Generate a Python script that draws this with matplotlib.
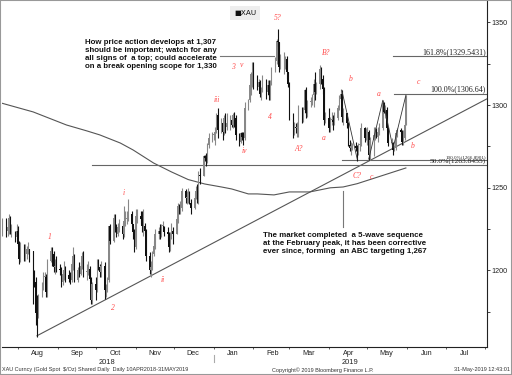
import matplotlib
matplotlib.use("Agg")
import matplotlib.pyplot as plt
import matplotlib.dates as mdates
import matplotlib.ticker as mticker
import matplotlib.transforms as mtransforms
from matplotlib.patches import Rectangle
import numpy as np
import pandas as pd

# XAU daily bars (weekdays) 20 Jul 2018 - 31 May 2019
closes = [
    1231, 1224, 1226, 1232, 1223, 1223, 1220, 1224,  # Jul
    1216, 1207, 1214, 1208, 1210, 1213, 1213, 1212, 1194, 1193, 1174, 1173,
    1184, 1190, 1196, 1196, 1187, 1206, 1212, 1210, 1202, 1202, 1201,  # Aug
    1200, 1193, 1198, 1200, 1197, 1195, 1194, 1204, 1209, 1194,
    1200, 1198, 1203, 1209, 1199, 1199, 1201, 1195, 1182, 1192,  # Sep
    1188, 1204, 1202, 1199, 1203, 1188, 1190, 1194, 1227, 1218, 1232, 1225,
    1222, 1226, 1227, 1222, 1230, 1231, 1232, 1234, 1228, 1223, 1214,  # Oct
    1233, 1233, 1231, 1227, 1227, 1224, 1209, 1200, 1202, 1210, 1215,
    1222, 1224, 1222, 1227, 1227, 1223, 1222, 1214, 1220, 1224, 1222,  # Nov
    1231, 1239, 1237, 1238, 1248, 1244, 1244, 1246, 1241, 1238, 1244,
    1248, 1243, 1258, 1257, 1269, 1268, 1267, 1276, 1280, 1282,  # Dec
    1282, 1284, 1294, 1285, 1289, 1284, 1292, 1287, 1289, 1291, 1288, 1294,
    1292, 1282, 1278, 1283, 1281, 1280, 1298, 1303, 1312, 1319, 1321,  # Jan
    1317, 1311, 1314, 1307, 1309, 1314, 1308, 1312, 1306, 1313,
    1322, 1327, 1339, 1338, 1323, 1328, 1328, 1328, 1320, 1313,  # Feb
    1294, 1287, 1287, 1286, 1286, 1298, 1291, 1297, 1309, 1295, 1302,
    1302, 1306, 1313, 1308, 1313, 1322, 1316, 1310, 1291, 1292,  # Mar
    1286, 1291, 1291, 1290, 1292, 1298, 1304, 1307, 1293, 1295, 1289,
    1276, 1274, 1275, 1275, 1274, 1270, 1276, 1276, 1286, 1280, 1284,  # Apr
    1284, 1270, 1279, 1282, 1284, 1281, 1284, 1286, 1301, 1296, 1297, 1286,
    1277, 1277, 1273, 1274, 1283, 1285, 1284, 1278, 1280, 1288, 1305,  # May
]
highs = [
    1232, 1232, 1230, 1234, 1233, 1228, 1224, 1228,
    1227, 1218, 1217, 1216, 1216, 1215, 1217, 1213, 1212, 1200, 1196, 1185,
    1186, 1193, 1199, 1199, 1198, 1207, 1214, 1214, 1212, 1207, 1209,
    1204, 1202, 1200, 1206, 1203, 1200, 1199, 1205, 1214, 1210,
    1202, 1205, 1205, 1211, 1212, 1204, 1206, 1203, 1196, 1193,
    1196, 1207, 1207, 1204, 1206, 1205, 1192, 1196, 1227, 1228, 1234, 1234,
    1228, 1229, 1231, 1229, 1239, 1236, 1236, 1243, 1236, 1227, 1225,
    1237, 1237, 1236, 1236, 1237, 1229, 1225, 1211, 1206, 1212, 1218,
    1225, 1226, 1228, 1228, 1230, 1227, 1226, 1223, 1223, 1229, 1226,
    1233, 1241, 1240, 1242, 1250, 1249, 1248, 1250, 1248, 1243, 1247,
    1251, 1252, 1260, 1262, 1270, 1270, 1271, 1277, 1283, 1284,
    1283, 1287, 1295, 1298, 1292, 1290, 1294, 1295, 1295, 1294, 1294, 1295,
    1296, 1294, 1283, 1284, 1284, 1284, 1302, 1304, 1313, 1320, 1326,
    1326, 1318, 1316, 1315, 1311, 1318, 1316, 1315, 1315, 1315,
    1323, 1329, 1340, 1346, 1338, 1331, 1332, 1330, 1330, 1320,
    1314, 1295, 1290, 1289, 1290, 1300, 1299, 1299, 1310, 1311, 1303,
    1305, 1307, 1316, 1320, 1314, 1324, 1323, 1318, 1311, 1296,
    1298, 1293, 1296, 1294, 1296, 1300, 1306, 1310, 1309, 1298, 1295,
    1290, 1279, 1278, 1277, 1278, 1276, 1277, 1281, 1289, 1287, 1286,
    1287, 1285, 1281, 1287, 1287, 1286, 1287, 1289, 1303, 1302, 1300, 1299,
    1287, 1280, 1278, 1276, 1284, 1286, 1286, 1285, 1285, 1289, 1306,
]
lows = [
    1221, 1220, 1221, 1222, 1222, 1220, 1217, 1218,
    1215, 1204, 1205, 1206, 1206, 1207, 1210, 1205, 1180, 1190, 1167, 1160,
    1171, 1184, 1188, 1192, 1184, 1184, 1205, 1203, 1199, 1198, 1199,
    1197, 1190, 1191, 1194, 1193, 1193, 1192, 1193, 1200, 1193,
    1193, 1196, 1197, 1201, 1196, 1194, 1197, 1194, 1180, 1180,
    1182, 1187, 1200, 1196, 1196, 1183, 1184, 1187, 1193, 1216, 1217, 1223,
    1220, 1221, 1223, 1219, 1220, 1227, 1228, 1230, 1226, 1219, 1211,
    1213, 1229, 1228, 1223, 1221, 1222, 1206, 1198, 1196, 1200, 1209,
    1213, 1219, 1219, 1220, 1224, 1221, 1218, 1211, 1212, 1219, 1216,
    1222, 1229, 1234, 1234, 1236, 1241, 1240, 1241, 1240, 1234, 1237,
    1243, 1241, 1240, 1252, 1257, 1266, 1263, 1265, 1274, 1278,
    1279, 1276, 1283, 1280, 1283, 1279, 1282, 1283, 1285, 1285, 1287, 1286,
    1287, 1279, 1275, 1277, 1279, 1276, 1279, 1297, 1302, 1306, 1311,
    1310, 1309, 1309, 1305, 1303, 1308, 1304, 1306, 1303, 1303,
    1312, 1320, 1325, 1336, 1320, 1322, 1319, 1322, 1316, 1311,
    1291, 1280, 1282, 1283, 1281, 1281, 1289, 1290, 1295, 1292, 1293,
    1299, 1300, 1299, 1303, 1307, 1310, 1313, 1307, 1288, 1289,
    1284, 1284, 1288, 1285, 1288, 1291, 1297, 1302, 1290, 1288, 1286,
    1275, 1272, 1270, 1273, 1272, 1266, 1270, 1272, 1275, 1278, 1279,
    1276, 1267, 1267, 1269, 1279, 1280, 1278, 1282, 1285, 1295, 1292, 1285,
    1275, 1274, 1270, 1272, 1273, 1281, 1283, 1276, 1276, 1279, 1288,
]
first_open = 1224

# moving average line (read at points along the curve)
ma_dates = ["2018-07-19", "2018-08-13", "2018-09-08", "2018-09-24", "2018-10-04",
            "2018-10-20", "2018-10-30", "2018-11-15", "2018-11-29", "2018-12-12",
            "2018-12-25", "2019-01-07", "2019-01-15", "2019-01-28", "2019-02-04",
            "2019-02-17", "2019-03-01", "2019-03-17", "2019-04-02", "2019-04-12",
            "2019-04-23", "2019-05-09", "2019-05-27", "2019-05-31"]
ma_values = [1301.3, 1295.9, 1288.0, 1284.4, 1282.0, 1277.1, 1272.9, 1265.0,
             1259.6, 1255.0, 1252.3, 1250.5, 1249.3, 1246.3, 1246.3, 1245.7,
             1247.5, 1247.5, 1250.0, 1250.5, 1252.5, 1256.5, 1261.0, 1262.0]

trend_dates = ["2018-08-16", "2019-08-02"]
trend_values = [1160.5, 1303.7]

wave_line_dates = ["2019-05-02", "2019-05-13", "2019-05-21", "2019-05-31"]
wave_line_values = [1267.4, 1303.0, 1274.0, 1306.0]
bc_dates = ["2019-04-11", "2019-04-23"]
bc_values = [1309.0, 1267.4]

wave_labels = ["1", "2", "i", "ii", "iii", "iv", "3", "v", "5?", "4",
               "A?", "B?", "a", "b", "C?", "c", "a", "c", "b"]
wave_dates = ["2018-08-26", "2018-10-14", "2018-10-23", "2018-11-22", "2019-01-03",
              "2019-01-25", "2019-01-16", "2019-01-23", "2019-02-20", "2019-02-14",
              "2019-03-08", "2019-03-30", "2019-03-28", "2019-04-18", "2019-04-23",
              "2019-05-04", "2019-05-10", "2019-06-10", "2019-06-05"]
wave_prices = [1220, 1177, 1247, 1194, 1303, 1272, 1323, 1324, 1353, 1293,
               1273.5, 1331.6, 1280, 1316, 1257, 1256.6, 1307, 1314, 1275]

# fib / level lines: (label, level, start date)
fib_labels = ["161.8%(1329.5431)", "100.0%(1306.64)", "100.0%(1266.8901)", "50.0%(1263.8455)"]
fib_levels = [1329.5431, 1306.64, 1266.8901, 1263.8455]
fib_starts = ["2019-05-21", "2019-05-22", "2019-04-11", "2018-09-28"]
fib_sizes = [5.8, 5.8, 3.6, 5.4]

top_note = ("How price action develops at 1,307\n"
            "should be important; watch for any\n"
            "all signs of  a top; could accelerate\n"
            "on a break opening scope for 1,330")
bottom_note = ("The market completed  a 5-wave sequence\n"
               "at the February peak, it has been corrective\n"
               "ever since, forming  an ABC targeting 1,267")

plt.rcParams['font.family'] = ['Liberation Sans', 'DejaVu Sans']

W, H = 512, 375
def fx(x):
    return x / W
def fy(y):
    return 1 - y / H

fig = plt.figure(figsize=(W / 100, H / 100), dpi=100)
ax = fig.add_axes([fx(2), fy(347), (487 - 2) / W, (347 - 1) / H])

d = lambda s: mdates.date2num(pd.Timestamp(s))

dates = pd.bdate_range("2018-07-20", "2019-05-31")
xs = mdates.date2num(dates.to_pydatetime())
c = np.array(closes, dtype=float)
h = np.array(highs, dtype=float)
l = np.array(lows, dtype=float)
o = np.array([first_open] + closes[:-1], dtype=float)
up = c >= o
cols = np.where(up, '#888888', '#111111')

ax.vlines(xs, l, h, colors=cols, lw=0.8, zorder=3)
ax.bar(xs, np.maximum(np.abs(c - o), 0.7), bottom=np.minimum(o, c), width=0.95,
       color=cols, lw=0, zorder=3)

# moving average and trendline
ax.plot([d(s) for s in ma_dates], ma_values, color='#555555', lw=0.8, zorder=2)
ax.plot([d(s) for s in trend_dates], trend_values, color='#555555', lw=0.8, zorder=2)
ax.plot([d(s) for s in wave_line_dates], wave_line_values, color='#333333', lw=0.6, zorder=4)
ax.plot([d(s) for s in bc_dates], bc_values, color='#333333', lw=0.6, zorder=4)

xmin, xmax = d("2018-07-19 16:00"), d("2019-08-02 08:00")
right_t = mtransforms.blended_transform_factory(ax.transAxes, ax.transData)
for lab, lev, st, fs in zip(fib_labels, fib_levels, fib_starts, fib_sizes):
    ax.plot([d(st), xmax], [lev, lev], color='#666666', lw=0.8, zorder=2)
    ax.text(0.998, lev + 0.3, lab, transform=right_t, ha='right', va='bottom',
            fontsize=fs, family='Liberation Serif', color='#222222')

# short level near 1,330 and pointer line
ax.plot([d("2019-01-06"), d("2019-02-17")], [1330, 1330], color='#777777', lw=0.8)
ax.plot([d("2019-04-12"), d("2019-04-12")], [1226, 1248], color='#777777', lw=0.8)

for lab, ds, p in zip(wave_labels, wave_dates, wave_prices):
    ax.text(d(ds), p, lab, ha='center', va='center', fontsize=5.5, style='italic',
            family='Liberation Serif', color='#ff4a4a', zorder=5)

ax.set_xlim(xmin, xmax)
ax.set_ylim(1153.7, 1363.0)

ax.spines['left'].set_visible(False)
ax.spines['top'].set_visible(False)
for s in ['right', 'bottom']:
    ax.spines[s].set_color('#222222')
    ax.spines[s].set_linewidth(0.8)

ax.yaxis.tick_right()
ax.set_yticks([1200, 1250, 1300, 1350])
ax.yaxis.set_minor_locator(mticker.FixedLocator([1175, 1225, 1275, 1325]))
ax.tick_params(axis='y', which='both', direction='out', length=2, width=0.6,
               labelsize=5.2, pad=1.5, colors='#222222')

ax.xaxis.set_major_locator(mdates.MonthLocator())
ax.xaxis.set_major_formatter(mticker.NullFormatter())
ax.xaxis.set_minor_locator(mdates.MonthLocator(bymonthday=16))
ax.xaxis.set_minor_formatter(mdates.DateFormatter('%b'))
ax.tick_params(axis='x', which='major', direction='out', length=1.5, width=0.6, colors='#444444')
ax.tick_params(axis='x', which='minor', length=0, labelsize=5.2, pad=2, labelcolor='#222222')

# year labels and separator
fig.text(fx(107), fy(362), "2018", ha='center', va='center', fontsize=5.4, color='#222222')
fig.text(fx(350), fy(362), "2019", ha='center', va='center', fontsize=5.4, color='#222222')
bt = mtransforms.blended_transform_factory(ax.transData, ax.transAxes)
ax.plot([d("2019-01-01"), d("2019-01-01")], [-0.024, -0.044], transform=bt,
        color='#aaaaaa', lw=0.8, clip_on=False)

# notes
fig.text(fx(85), fy(39), top_note, ha='left', va='top', fontsize=5.7,
         fontweight='bold', linespacing=1.2, color='#111111')
fig.text(fx(263), fy(232), bottom_note, ha='left', va='top', fontsize=5.7,
         fontweight='bold', linespacing=1.2, color='#111111')

# legend box
fig.text(fx(245), fy(13), "\u25a0XAU", ha='center', va='center', fontsize=5.2,
         family='DejaVu Sans', color='#111111',
         bbox=dict(boxstyle='square,pad=0.6', fc='#eeeeee', ec='none'))

# footer
fig.text(fx(2), fy(370), "XAU Curncy (Gold Spot  $/Oz) Shared Daily  Daily 10APR2018-31MAY2019",
         ha='left', va='center', fontsize=4.0, color='#333333')
fig.text(fx(272), fy(370), "Copyright\u00a9 2019 Bloomberg Finance L.P.",
         ha='left', va='center', fontsize=4.0, color='#333333')
fig.text(fx(510), fy(370), "31-May-2019 12:43:01", ha='right', va='center',
         fontsize=4.0, color='#333333')

fig.add_artist(Rectangle((0, 0), 1, 1, transform=fig.transFigure, fill=False,
                         ec='#999999', lw=1.5))

fig.savefig("out.png", dpi=100)
